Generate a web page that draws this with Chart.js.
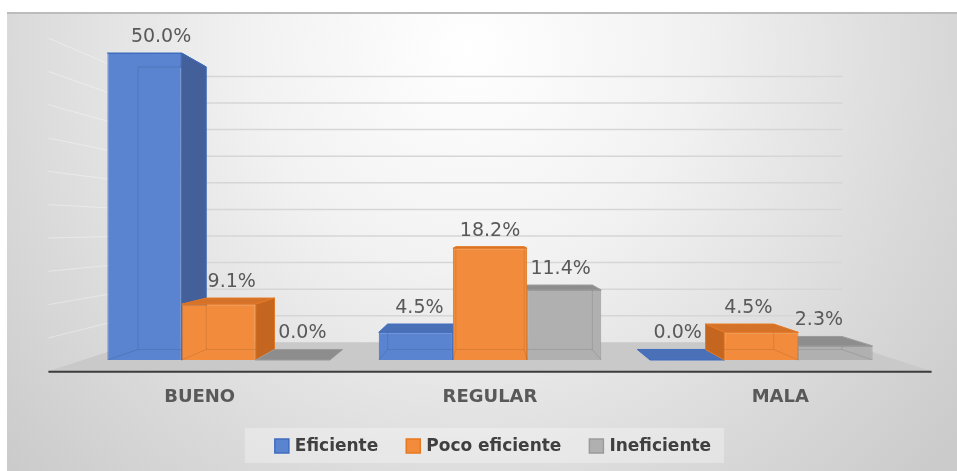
<!DOCTYPE html>
<html>
<head>
<meta charset="utf-8">
<script src="https://cdn.jsdelivr.net/npm/chart.js@4.4.1/dist/chart.umd.min.js"></script>
<style>
  html, body { margin: 0; padding: 0; background: #fff; }
  #wrap { width: 957px; height: 471px; position: relative; }
</style>
</head>
<body>
<div id="wrap"><canvas id="chart" width="957" height="471"></canvas></div>
<script>
// data
const categories = ["BUENO", "REGULAR", "MALA"];
const seriesNames = ["Eficiente", "Poco eficiente", "Ineficiente"];
const eficiente = [0.500, 0.045, 0.000];
const pocoEficiente = [0.091, 0.182, 0.045];
const ineficiente = [0.000, 0.114, 0.023];
const axisMax = 0.5;
const gridStep = 0.05;

// colours for each series: front, side, top, edge
const palette = [
    { front: "#5a84d0", side: "#43609a", top: "#4a70b8", edge: "#3f6cbf" },
    { front: "#f28c3c", side: "#c4661f", top: "#d4722a", edge: "#e67822" },
    { front: "#b0b0b0", side: "#8c8c8c", top: "#8d8d8d", edge: "#9b9b9b" }
];

// fake perspective: depth 0 = front of the bars
const BAR_DEPTH = 0.08;
const WALL_DEPTH = 0.134;
const FLOOR_FRONT = -0.085;
const LABEL_DEPTH = -0.07;

function vanish(chart) {
    const a = chart.chartArea;
    return { x: (a.left + a.right) / 2, y: a.top + 0.57 * (a.bottom - a.top) };
}
function proj(vp, x, y, t) {
    return [x + t * (vp.x - x), y + t * (vp.y - y)];
}
function poly(ctx, pts, fill, stroke) {
    ctx.beginPath();
    ctx.moveTo(pts[0][0], pts[0][1]);
    for (let i = 1; i < pts.length; i++) ctx.lineTo(pts[i][0], pts[i][1]);
    ctx.closePath();
    if (fill) { ctx.fillStyle = fill; ctx.fill(); }
    if (stroke) { ctx.strokeStyle = stroke; ctx.lineWidth = 1; ctx.stroke(); }
}
function barBox(bar) {
    const p = bar.getProps(["x", "y", "base", "width"], true);
    return { xl: p.x - p.width / 2, xr: p.x + p.width / 2, yt: Math.min(p.y, p.base), yb: Math.max(p.y, p.base), cx: p.x };
}

const depthPlugin = {
    id: "depth3d",
    beforeDraw(chart) {
        const ctx = chart.ctx;
        ctx.save();
        ctx.fillStyle = "#ffffff";
        ctx.fillRect(0, 0, chart.width, chart.height);
        const g = ctx.createRadialGradient(470, 50, 0, 470, 50, 620);
        g.addColorStop(0, "#ffffff");
        g.addColorStop(0.35, "#f2f2f2");
        g.addColorStop(0.75, "#d9d9d9");
        g.addColorStop(1, "#cbcbcb");
        ctx.fillStyle = g;
        ctx.fillRect(7, 12, chart.width - 7, chart.height - 12);
        ctx.strokeStyle = "#bcbcbc";
        ctx.lineWidth = 2;
        ctx.beginPath();
        ctx.moveTo(7, 13);
        ctx.lineTo(chart.width, 13);
        ctx.stroke();
        ctx.restore();
    },
    beforeDatasetsDraw(chart) {
        const ctx = chart.ctx;
        const a = chart.chartArea;
        const vp = vanish(chart);
        const ys = chart.scales.y;
        const y0 = ys.getPixelForValue(0);
        ctx.save();

        // floor
        const fl = proj(vp, a.left, y0, FLOOR_FRONT), fr = proj(vp, a.right, y0, FLOOR_FRONT);
        const br = proj(vp, a.right, y0, WALL_DEPTH), bl = proj(vp, a.left, y0, WALL_DEPTH);
        poly(ctx, [fl, fr, br, bl], "#c9c9c9");

        // back wall and side wall grid
        for (let v = gridStep; v <= axisMax + 1e-9; v += gridStep) {
            const y = ys.getPixelForValue(v);
            const w1 = proj(vp, a.left, y, WALL_DEPTH), w2 = proj(vp, a.right, y, WALL_DEPTH);
            const s1 = proj(vp, a.left, y, FLOOR_FRONT);
            ctx.lineWidth = 1.5;
            ctx.strokeStyle = "#d6d6d6";
            ctx.beginPath(); ctx.moveTo(w1[0], w1[1]); ctx.lineTo(w2[0], w2[1]); ctx.stroke();
            ctx.lineWidth = 1;
            ctx.strokeStyle = "rgba(255,255,255,0.35)";
            ctx.beginPath(); ctx.moveTo(s1[0], s1[1]); ctx.lineTo(w1[0], w1[1]); ctx.stroke();
        }

        // floor front edge
        ctx.strokeStyle = "#3c3c3c";
        ctx.lineWidth = 2;
        ctx.beginPath(); ctx.moveTo(fl[0], fl[1] + 0.5); ctx.lineTo(fr[0], fr[1] + 0.5); ctx.stroke();

        // top and side faces of every bar
        chart.data.datasets.forEach((ds, di) => {
            const col = palette[di];
            chart.getDatasetMeta(di).data.forEach(bar => {
                const b = barBox(bar);
                const blt = proj(vp, b.xl, b.yt, BAR_DEPTH), brt = proj(vp, b.xr, b.yt, BAR_DEPTH);
                const blb = proj(vp, b.xl, b.yb, BAR_DEPTH), brb = proj(vp, b.xr, b.yb, BAR_DEPTH);
                poly(ctx, [[b.xl, b.yt], [b.xr, b.yt], brt, blt], col.top, col.edge);
                if (vp.x > b.xr && b.yb - b.yt > 0.5) {
                    poly(ctx, [[b.xr, b.yt], [b.xr, b.yb], brb, brt], col.side, col.edge);
                } else if (vp.x < b.xl && b.yb - b.yt > 0.5) {
                    poly(ctx, [[b.xl, b.yt], [b.xl, b.yb], blb, blt], col.side, col.edge);
                }
            });
        });
        ctx.restore();
    },
    afterDatasetsDraw(chart) {
        const ctx = chart.ctx;
        const vp = vanish(chart);
        const ys = chart.scales.y, xs = chart.scales.x;
        const y0 = ys.getPixelForValue(0);
        ctx.save();

        // hidden edges seen through the front faces
        chart.data.datasets.forEach((ds, di) => {
            chart.getDatasetMeta(di).data.forEach(bar => {
                const b = barBox(bar);
                if (b.yb - b.yt < 2) return;
                const blt = proj(vp, b.xl, b.yt, BAR_DEPTH), brt = proj(vp, b.xr, b.yt, BAR_DEPTH);
                const blb = proj(vp, b.xl, b.yb, BAR_DEPTH), brb = proj(vp, b.xr, b.yb, BAR_DEPTH);
                ctx.save();
                ctx.beginPath(); ctx.rect(b.xl, b.yt, b.xr - b.xl, b.yb - b.yt); ctx.clip();
                ctx.strokeStyle = "rgba(0,0,0,0.10)";
                ctx.lineWidth = 1;
                ctx.beginPath();
                ctx.moveTo(blt[0], blt[1]); ctx.lineTo(brt[0], brt[1]); ctx.lineTo(brb[0], brb[1]);
                ctx.lineTo(blb[0], blb[1]); ctx.closePath();
                ctx.moveTo(b.xl, b.yb); ctx.lineTo(blb[0], blb[1]);
                ctx.moveTo(b.xr, b.yb); ctx.lineTo(brb[0], brb[1]);
                ctx.stroke();
                ctx.restore();
            });
        });

        // value labels
        ctx.font = '19px "DejaVu Sans"';
        ctx.fillStyle = "#595959";
        ctx.textAlign = "center";
        ctx.textBaseline = "middle";
        chart.data.datasets.forEach((ds, di) => {
            chart.getDatasetMeta(di).data.forEach((bar, i) => {
                const b = barBox(bar);
                const mid = proj(vp, b.cx, b.yt, BAR_DEPTH * 0.6);
                const back = proj(vp, b.cx, b.yt, BAR_DEPTH);
                const yl = Math.min(b.yt, back[1]) - 16;
                ctx.fillText((ds.data[i] * 100).toFixed(1) + "%", mid[0], yl);
            });
        });

        // category labels under the floor
        ctx.font = 'bold 18px "DejaVu Sans"';
        ctx.fillStyle = "#595959";
        categories.forEach((c, i) => {
            const p = proj(vp, xs.getPixelForValue(i), y0, LABEL_DEPTH);
            ctx.fillText(c, p[0], 397);
        });

        // legend
        ctx.font = 'bold 17px "DejaVu Sans"';
        ctx.textAlign = "left";
        const box = 14, gap = 6, between = 28;
        const widths = chart.data.datasets.map(ds => ctx.measureText(ds.label).width);
        const total = widths.reduce((s, w) => s + box + gap + w, 0) + between * (widths.length - 1);
        let x = vp.x + 3 - total / 2;
        const ly = 446;
        ctx.fillStyle = "rgba(255,255,255,0.3)";
        ctx.fillRect(x - 30, ly - 18, total + 43, 35);
        chart.data.datasets.forEach((ds, di) => {
            ctx.fillStyle = palette[di].front;
            ctx.fillRect(x, ly - 7, box, box);
            ctx.strokeStyle = palette[di].edge;
            ctx.lineWidth = 1.5;
            ctx.strokeRect(x, ly - 7, box, box);
            ctx.fillStyle = "#404040";
            ctx.fillText(ds.label, x + box + gap, ly + 1);
            x += box + gap + widths[di] + between;
        });
        ctx.restore();
    }
};

const seriesData = [eficiente, pocoEficiente, ineficiente];

new Chart(document.getElementById("chart"), {
    type: "bar",
    data: {
        labels: categories,
        datasets: seriesNames.map((name, i) => ({
            label: name,
            data: seriesData[i],
            backgroundColor: palette[i].front,
            borderColor: palette[i].edge,
            borderWidth: 1,
            categoryPercentage: 0.82,
            barPercentage: 1.0
        }))
    },
    options: {
        responsive: false,
        animation: false,
        devicePixelRatio: 1,
        layout: { padding: { left: 83, right: 60, top: 53, bottom: 111 } },
        plugins: {
            legend: { display: false },
            tooltip: { enabled: false }
        },
        scales: {
            x: { display: false },
            y: { display: false, min: 0, max: axisMax }
        }
    },
    plugins: [depthPlugin]
});
</script>
</body>
</html>
